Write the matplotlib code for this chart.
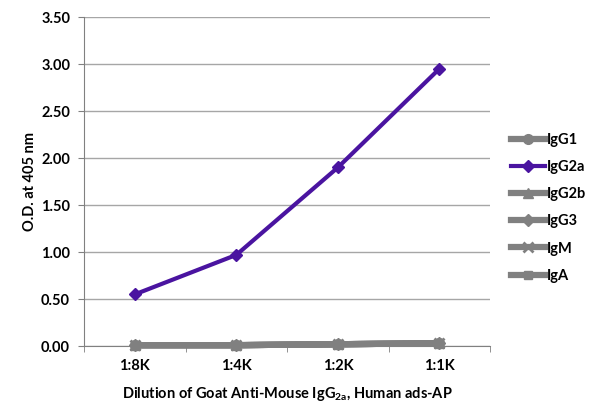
import matplotlib; matplotlib.use("Agg")
import matplotlib.pyplot as plt
import numpy as np

plt.rcParams.update({"font.family": ["Lato", "DejaVu Sans"], "font.weight": "bold",
                     "axes.labelweight": "bold", "font.size": 10.5,
                     "mathtext.fontset": "custom", "mathtext.rm": "Lato:bold",
                     "mathtext.it": "Lato:bold", "mathtext.bf": "Lato:bold"})

dilutions = ["1:8K", "1:4K", "1:2K", "1:1K"]
series = ["IgG1", "IgG2a", "IgG2b", "IgG3", "IgM", "IgA"]
igg1 = [0.01, 0.01, 0.02, 0.03]
igg2a = [0.55, 0.97, 1.90, 2.95]
igg2b = [0.01, 0.01, 0.02, 0.03]
igg3 = [0.01, 0.01, 0.02, 0.03]
igm = [0.01, 0.01, 0.02, 0.03]
iga = [0.01, 0.01, 0.02, 0.03]
values = [igg1, igg2a, igg2b, igg3, igm, iga]

GRAY = "#808080"
PURPLE = "#4a14a0"
styles = {"IgG1": ("o", GRAY, 7, 4.5), "IgG2a": ("D", PURPLE, 6, 3),
          "IgG2b": ("^", GRAY, 7, 4.5), "IgG3": ("D", GRAY, 6, 4.5),
          "IgM": ("x", GRAY, 7, 4.5), "IgA": ("s", GRAY, 6, 4.5)}

fig = plt.figure(figsize=(6, 4.15), dpi=100)
ax = fig.add_axes([0.14, 0.166, 0.677, 0.793])
x = np.arange(len(dilutions))

order = ["IgG1", "IgG2b", "IgG3", "IgM", "IgA", "IgG2a"]
handles = {}
for name in order:
    m, c, ms, lw = styles[name]
    vals = values[series.index(name)]
    ln, = ax.plot(x, vals, marker=m, color=c, ms=ms, lw=lw, mew=2 if m == "x" else 1,
                  clip_on=False, zorder=3 if name == "IgG2a" else 2, label=name)
    handles[name] = ln

ax.set_xlim(-0.5, 3.5)
ax.set_ylim(0, 3.5)
ax.set_yticks(np.arange(0, 3.51, 0.5))
ax.set_yticklabels([f"{v:.2f}" for v in np.arange(0, 3.51, 0.5)])
ax.set_xticks(x)
ax.set_xticklabels(dilutions)
ax.set_xticks(np.arange(-0.5, 3.6, 1), minor=True)
ax.tick_params(axis="x", which="major", length=0, pad=9)
ax.tick_params(axis="x", which="minor", length=4, color=GRAY, direction="out")
ax.tick_params(axis="y", length=4, color=GRAY, pad=6)
ax.grid(axis="y", color="#a6a6a6", lw=1)
ax.set_axisbelow(True)
for s in ["top", "right"]:
    ax.spines[s].set_visible(False)
for s in ["left", "bottom"]:
    ax.spines[s].set_color(GRAY)

ax.set_ylabel("O.D. at 405 nm", labelpad=3)
ax.set_xlabel("Dilution of Goat Anti-Mouse IgG$_{2a}$, Human ads-AP", labelpad=9)

ax.legend([handles[n] for n in series], series, loc="center left", bbox_to_anchor=(1.02, 0.42),
          frameon=False, handlelength=2.3, handletextpad=0.1, labelspacing=0.9)

fig.savefig("out.png")
